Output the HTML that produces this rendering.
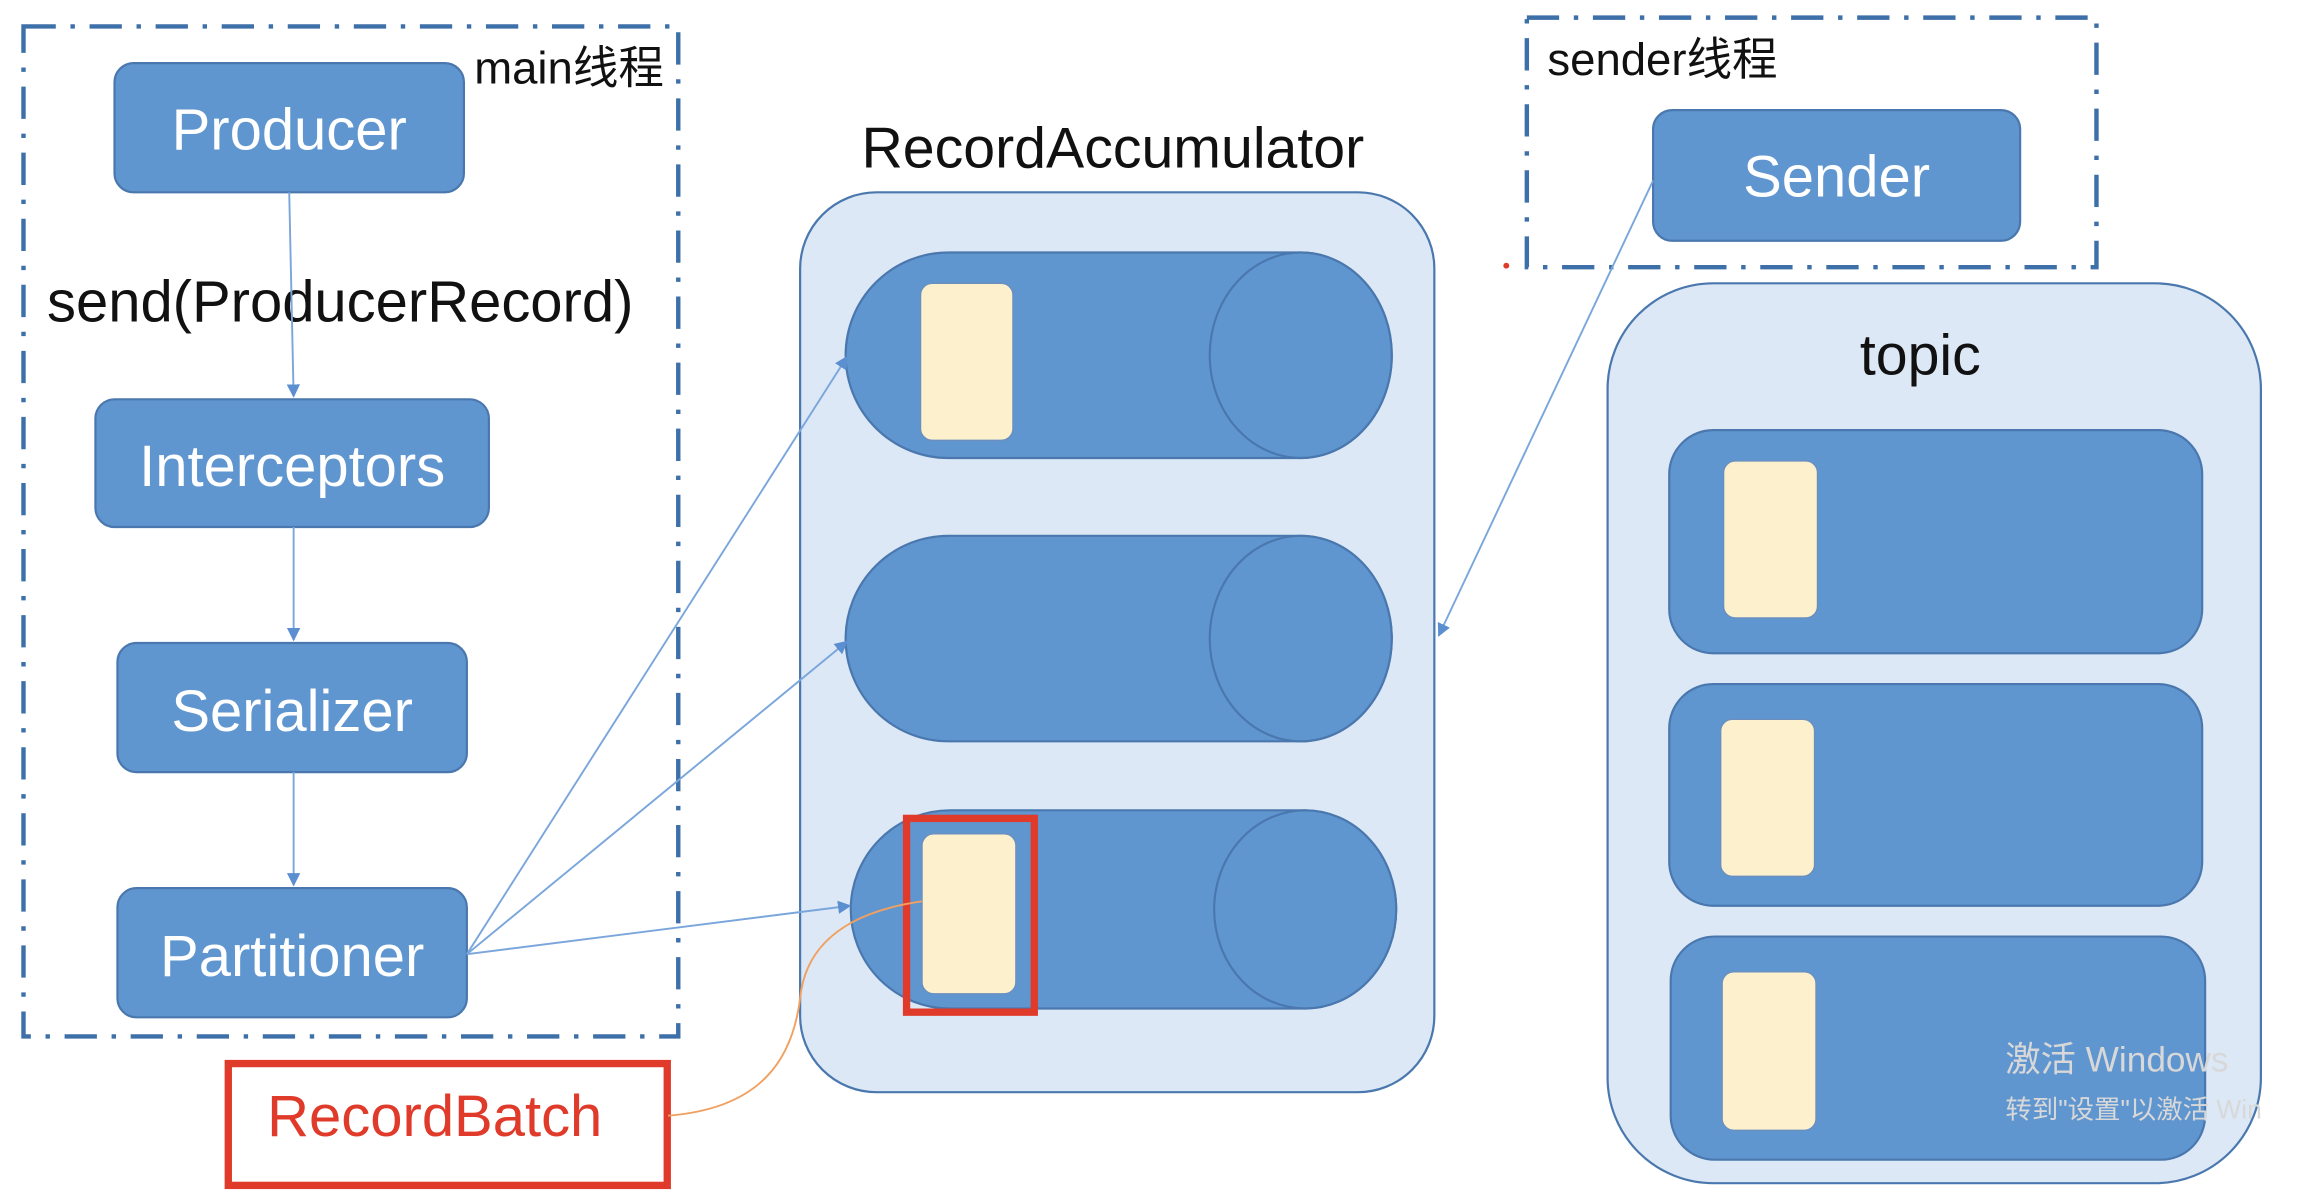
<!DOCTYPE html>
<html><head><meta charset="utf-8"><style>
html,body{margin:0;padding:0;background:#fff;width:2302px;height:1192px;overflow:hidden}
svg{display:block}
text{font-family:"Liberation Sans","Noto Sans CJK SC",sans-serif}
</style></head><body>
<svg width="2302" height="1192" viewBox="0 0 1568 812" preserveAspectRatio="none" xmlns="http://www.w3.org/2000/svg">
<defs>
<marker id="a" viewBox="0 0 10 10" refX="9" refY="5" markerWidth="7" markerHeight="7" orient="auto"><path d="M0,0L10,5L0,10z" fill="#5b8fd0"/></marker>
</defs>
<g fill="none" stroke="#3d6fa8" stroke-width="3" stroke-dasharray="22,10,3,10">
<rect x="16" y="18" width="446" height="688"/>
<rect x="1040" y="12" width="388" height="170"/>
</g>
<text x="323" y="57" font-size="31" fill="#111">main线程</text>
<text x="1054" y="51" font-size="31" fill="#111">sender线程</text>
<g fill="#6096d0" stroke="#4a78ae" stroke-width="1.5">
<rect x="78" y="43" width="238" height="88" rx="13"/>
<rect x="65" y="272" width="268" height="87" rx="13"/>
<rect x="80" y="438" width="238" height="88" rx="13"/>
<rect x="80" y="605" width="238" height="88" rx="13"/>
<rect x="1126" y="75" width="250" height="89" rx="13"/>
</g>
<g fill="#fff" font-size="39.5" text-anchor="middle">
<text x="197" y="102">Producer</text>
<text x="199" y="331">Interceptors</text>
<text x="199" y="498">Serializer</text>
<text x="199" y="665">Partitioner</text>
<text x="1251" y="134">Sender</text>
</g>
<text x="32" y="219" font-size="39.5" fill="#111">send(ProducerRecord)</text>
<text x="758" y="114" font-size="39" fill="#111" text-anchor="middle">RecordAccumulator</text>
<rect x="545" y="131" width="432" height="613" rx="52" fill="#dce8f6" stroke="#4a78ae" stroke-width="1.5"/>
<g fill="#6096d0" stroke="#4a78ae" stroke-width="1.5">
<path d="M646,172H886A62,70 0 0 1 886,312H646A70,70 0 0 1 646,172Z"/>
<ellipse cx="886" cy="242" rx="62" ry="70"/>
<path d="M646,365H886A62,70 0 0 1 886,505H646A70,70 0 0 1 646,365Z"/>
<ellipse cx="886" cy="435" rx="62" ry="70"/>
<path d="M647,552H889A62,67.5 0 0 1 889,687H647A67.5,67.5 0 0 1 647,552Z"/>
<ellipse cx="889" cy="619.5" rx="62" ry="67.5"/>
</g>
<rect x="1095" y="193" width="445" height="613" rx="72" fill="#dce8f6" stroke="#4a78ae" stroke-width="1.5"/>
<text x="1308" y="255" font-size="39" fill="#111" text-anchor="middle">topic</text>
<g fill="#6096d0" stroke="#4a78ae" stroke-width="1.5">
<rect x="1137" y="293" width="363" height="152" rx="30"/>
<rect x="1137" y="466" width="363" height="151" rx="30"/>
<rect x="1138" y="638" width="364" height="152" rx="30"/>
</g>
<g fill="#fdf0cc" stroke="#6a8fbf" stroke-width="1">
<rect x="627" y="193" width="63" height="107" rx="8"/>
<rect x="628" y="568" width="64" height="109" rx="8"/>
<rect x="1174" y="314" width="64" height="107" rx="8"/>
<rect x="1172" y="490" width="64" height="107" rx="8"/>
<rect x="1173" y="662" width="64" height="108" rx="8"/>
</g>
<g stroke="#7aa6dc" stroke-width="1.3" fill="none" marker-end="url(#a)">
<line x1="197" y1="131" x2="200" y2="270"/>
<line x1="200" y1="359" x2="200" y2="436"/>
<line x1="200" y1="526" x2="200" y2="603"/>
<line x1="318" y1="650" x2="577" y2="243"/>
<line x1="318" y1="650" x2="577" y2="437"/>
<line x1="318" y1="650" x2="579" y2="617"/>
<line x1="1126" y1="123" x2="980" y2="433"/>
</g>
<rect x="617.5" y="557.5" width="87" height="132" fill="none" stroke="#e03a2a" stroke-width="5"/>
<rect x="155.5" y="724.5" width="299" height="83" fill="#fff" stroke="#e03a2a" stroke-width="5"/>
<text x="182" y="774" font-size="39.5" fill="#e03a2a">RecordBatch</text>
<path d="M455,760C520,755 540,720 545,680C550,630 600,618 628,614" fill="none" stroke="#f0a060" stroke-width="1.3"/>
<circle cx="1026" cy="181" r="2" fill="#e03a2a"/>
<text x="1366" y="730" font-size="24" fill="#d8d8d8">激活 Windows</text>
<text x="1366" y="762" font-size="18" fill="#d8d8d8">转到"设置"以激活 Win</text>
</svg>
</body></html>
